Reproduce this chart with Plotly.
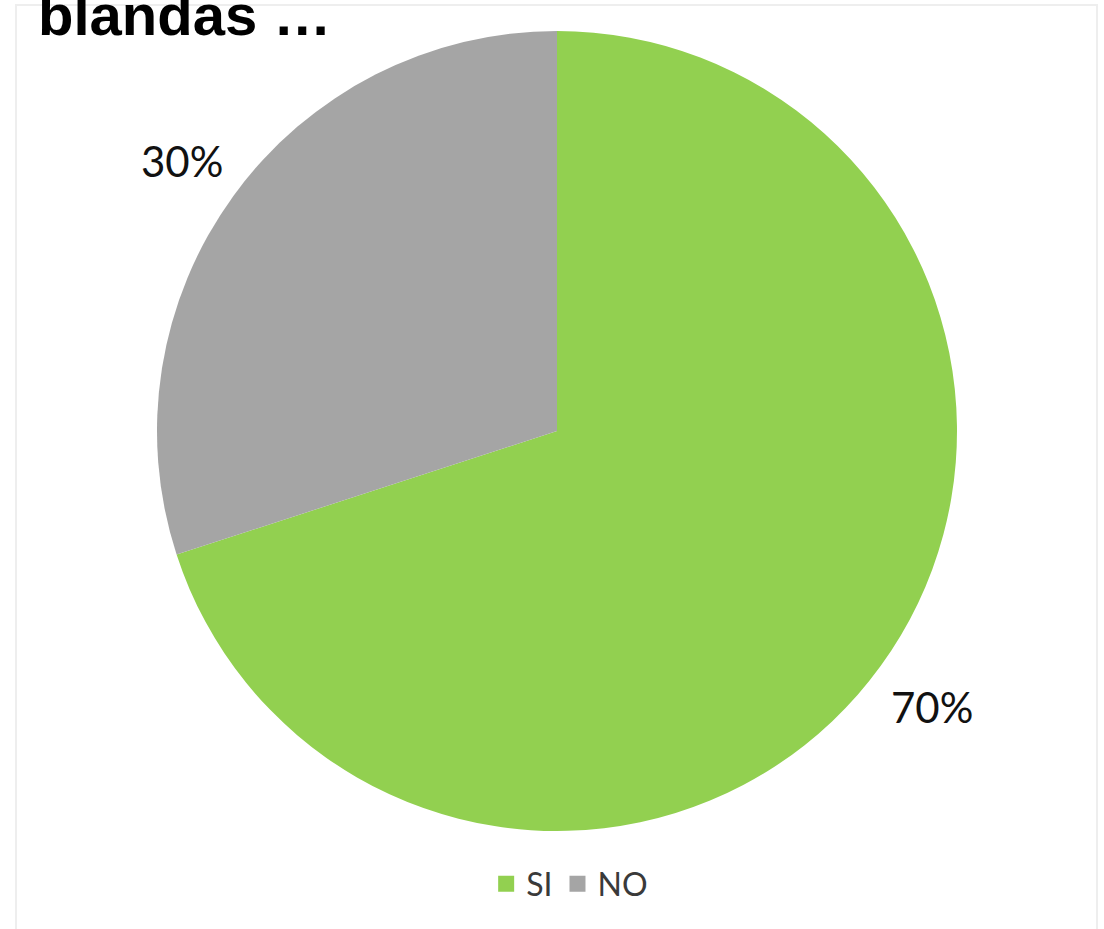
import math
import plotly.graph_objects as go

# Survey answers
categories = ["SI", "NO"]
shares = [70, 30]
slice_colors = ["#92D050", "#A5A5A5"]
title_text = "blandas …"

W, H = 1104, 929
# pie geometry in pixels (centre and radius)
cx, cy, rad = 557, 431, 400

fig = go.Figure()
fig.add_trace(
    go.Pie(
        labels=categories,
        values=shares,
        sort=False,
        direction="clockwise",
        rotation=0,
        marker=dict(colors=slice_colors, line=dict(width=0)),
        textinfo="none",
        hoverinfo="label+percent",
        showlegend=False,
        domain=dict(
            x=[(cx - rad) / W, (cx + rad) / W],
            y=[(H - cy - rad) / H, (H - cy + rad) / H],
        ),
    )
)

# legend keys: larger square swatches than the pie's default ones
for name, col in zip(categories, slice_colors):
    fig.add_trace(
        go.Scatter(
            x=[None], y=[None], mode="markers", name=name,
            marker=dict(symbol="square", size=16, color=col),
            hoverinfo="skip",
        )
    )

# percentage labels placed outside each slice, along its mid-angle
total = sum(shares)
start = 0.0
label_r = rad * 1.16
for v in shares:
    mid = (start + v / 2) / total * 2 * math.pi
    start += v
    px = cx + label_r * math.sin(mid)
    py = cy - label_r * math.cos(mid) + 3
    fig.add_annotation(
        x=px / W, y=1 - py / H, xref="paper", yref="paper",
        text=f"{round(v / total * 100)}%", showarrow=False,
        xanchor="center", yanchor="middle",
        font=dict(family="Lato", size=42, color="#111111"),
    )

# heading, partly running off the top edge
fig.add_annotation(
    x=36 / W, y=1 + 20 / H, xref="paper", yref="paper",
    text=f"<b>{title_text}</b>", showarrow=False,
    xanchor="left", yanchor="top",
    font=dict(family="Liberation Sans", size=58, color="#000000"),
)

# faint frame around the chart area
fig.add_shape(
    type="rect", xref="paper", yref="paper",
    x0=16 / W, x1=1097 / W, y0=-0.02, y1=1 - 5 / H,
    line=dict(color="#eeeeee", width=2), fillcolor="rgba(0,0,0,0)",
)

fig.update_layout(
    width=W, height=H,
    margin=dict(l=0, r=0, t=0, b=0),
    paper_bgcolor="white", plot_bgcolor="white",
    showlegend=True,
    xaxis=dict(visible=False),
    yaxis=dict(visible=False),
    legend=dict(
        orientation="h", x=0.516, xanchor="center", y=1 - 884 / H, yanchor="middle",
        font=dict(family="Lato", size=32, color="#3a3a3a"),
        itemclick=False, itemdoubleclick=False,
    ),
)

fig.write_html("out.html")
